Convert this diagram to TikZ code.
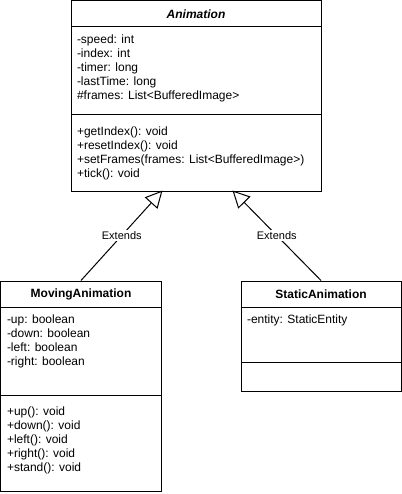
\documentclass[tikz,border=0pt]{standalone}
\usepackage{fontspec}
\setmainfont{Liberation Sans}
\usetikzlibrary{arrows.meta}

\begin{document}
\begin{tikzpicture}[x=1pt, y=-1pt, line width=1pt,
        every node/.style={inner sep=0pt, font=\fontsize{12}{14}\selectfont},
        classbox/.style={draw, rectangle, anchor=north west},
        member/.style={anchor=west, text height=8.6pt, text depth=2.4pt},
        extends/.style={-{Triangle[open, length=17pt, width=17pt]}}]
            \useasboundingbox (-0.5, -0.5) rectangle (400.5, 493.5);

            % Animation
            \node[classbox, minimum width=250pt, minimum height=26pt] (animTitle) at (70, 0)
                {\textbf{\textit{Animation}}};
            \node[classbox, minimum width=250pt, minimum height=88pt] (animAttrs) at (70, 26) {};
            \node[classbox, minimum width=250pt, minimum height=76pt] (animMethods) at (70, 114) {};
            \foreach \txt [count=\i] in {-speed: int, -index: int, -timer: long, -lastTime: long,
                    \#frames: List<BufferedImage>}
                \node[member] (animAttr\i) at (76, 26+14*\i) {\txt};
            \foreach \txt [count=\i] in {+getIndex(): void, +resetIndex(): void,
                    +setFrames(frames: List<BufferedImage>), +tick(): void}
                \node[member] (animMethod\i) at (76, 118+14*\i) {\txt};

            % MovingAnimation
            \node[classbox, minimum width=160pt, minimum height=26pt] (movTitle) at (0, 280)
                {\textbf{MovingAnimation}};
            \node[classbox, minimum width=160pt, minimum height=88pt] (movAttrs) at (0, 306) {};
            \node[classbox, minimum width=160pt, minimum height=96pt] (movMethods) at (0, 394) {};
            \foreach \txt [count=\i] in {-up: boolean, -down: boolean, -left: boolean, -right: boolean}
                \node[member] (movAttr\i) at (6, 306+14*\i) {\txt};
            \foreach \txt [count=\i] in {+up(): void, +down(): void, +left(): void, +right(): void,
                    +stand(): void}
                \node[member] (movMethod\i) at (6, 398+14*\i) {\txt};

            % StaticAnimation
            \node[classbox, minimum width=160pt, minimum height=26pt] (statTitle) at (240, 280)
                {\textbf{StaticAnimation}};
            \node[classbox, minimum width=160pt, minimum height=55pt] (statAttrs) at (240, 306) {};
            \node[classbox, minimum width=160pt, minimum height=29pt] (statMethods) at (240, 361) {};
            \node[member] (statAttr1) at (246, 320) {-entity: StaticEntity};

            \coordinate (tipL) at (162, 190);
            \coordinate (tipR) at (232, 190);
            \draw[extends] (movTitle.north) -- node[fill=white, inner sep=1pt,
                font=\fontsize{11}{13}\selectfont] (extL) {Extends} (tipL);
            \draw[extends] (statTitle.north) -- node[fill=white, inner sep=1pt,
                font=\fontsize{11}{13}\selectfont] (extR) {Extends} (tipR);
        \end{tikzpicture}
\end{document}
